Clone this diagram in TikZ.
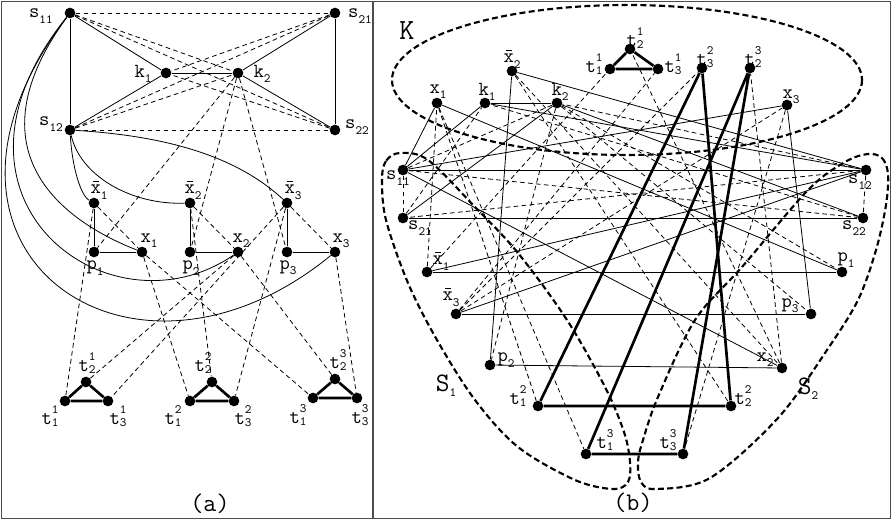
\documentclass[tikz,border=0pt]{standalone}
\usepackage{fontspec}
\newcommand{\sbs}[2]{#1\raisebox{-4pt}{\fontsize{9.5}{10}\selectfont#2}}
\newcommand{\tlab}[2]{t\rlap{\raisebox{8pt}{\fontsize{9.5}{10}\selectfont#1}}\raisebox{-1.5pt}{\fontsize{9.5}{10}\selectfont#2}}
\newcommand{\xbar}{\rlap{\hspace{2.2pt}\rule[9pt]{4pt}{0.7pt}}x}
\begin{document}
\begin{tikzpicture}[x=0.75pt,y=-0.75pt,
    font=\ttfamily\fontsize{15}{15}\selectfont,
    dot/.style={circle,fill=black,inner sep=0pt,minimum size=8pt},
    lbl/.style={inner sep=0pt},
    edge/.style={line width=0.6pt},
    dedge/.style={line width=0.6pt,dash pattern=on 3.5pt off 2.5pt},
    tri/.style={line width=2pt},
    region/.style={line width=1.6pt,dash pattern=on 4.5pt off 2.5pt}
  ]
  \useasboundingbox (0,0) rectangle (893,521);

  % frame
  \draw[line width=0.8pt,black!70] (1.5,1.5) rectangle (890.5,518.5);
  \draw[line width=0.8pt,black!70] (373,1.5) -- (373,518.5);

  % ---------- (a) vertices
  \node[dot] (as11) at (70,13) {};
  \node[dot] (as21) at (335,13) {};
  \node[dot] (ak1) at (166,73) {};
  \node[dot] (ak2) at (238,73) {};
  \node[dot] (as12) at (70,130) {};
  \node[dot] (as22) at (335,130) {};
  \node[dot] (axb1) at (94,203) {};
  \node[dot] (axb2) at (190,203) {};
  \node[dot] (axb3) at (287,203) {};
  \node[dot] (ap1) at (94,252) {};
  \node[dot] (ax1) at (142,252) {};
  \node[dot] (ap2) at (190,252) {};
  \node[dot] (ax2) at (238,252) {};
  \node[dot] (ap3) at (287,252) {};
  \node[dot] (ax3) at (335,252) {};
  \node[dot] (at12) at (86,382) {};
  \node[dot] (at11) at (65,401) {};
  \node[dot] (at13) at (108,401) {};
  \node[dot] (at22) at (212,382) {};
  \node[dot] (at21) at (190,401) {};
  \node[dot] (at23) at (234,401) {};
  \node[dot] (at32) at (335,379) {};
  \node[dot] (at31) at (313,398) {};
  \node[dot] (at33) at (357,398) {};

  % (a) labels
  \node[lbl] (al-s11) at (41,16) {\sbs{s}{11}};
  \node[lbl] (al-s21) at (360,16) {\sbs{s}{21}};
  \node[lbl] (al-k1) at (143,74) {\sbs{k}{1}};
  \node[lbl] (al-k2) at (262,74) {\sbs{k}{2}};
  \node[lbl] (al-s12) at (51,124) {\sbs{s}{12}};
  \node[lbl] (al-s22) at (357,127) {\sbs{s}{22}};
  \node[lbl] (al-xb1) at (99,190) {\sbs{\xbar}{1}};
  \node[lbl] (al-xb2) at (193,190) {\sbs{\xbar}{2}};
  \node[lbl] (al-xb3) at (293,190) {\sbs{\xbar}{3}};
  \node[lbl] (al-x1) at (149,241) {\sbs{x}{1}};
  \node[lbl] (al-x2) at (241,241) {\sbs{x}{2}};
  \node[lbl] (al-x3) at (341,241) {\sbs{x}{3}};
  \node[lbl] (al-p1) at (95,268) {\sbs{p}{1}};
  \node[lbl] (al-p2) at (191,268) {\sbs{p}{2}};
  \node[lbl] (al-p3) at (288,268) {\sbs{p}{3}};
  \node[lbl] (al-t12) at (87,363) {\tlab{1}{2}};
  \node[lbl] (al-t11) at (50,416) {\tlab{1}{1}};
  \node[lbl] (al-t13) at (118,416) {\tlab{1}{3}};
  \node[lbl] (al-t22) at (203,363) {\tlab{2}{2}};
  \node[lbl] (al-t21) at (173,416) {\tlab{2}{1}};
  \node[lbl] (al-t23) at (243,416) {\tlab{2}{3}};
  \node[lbl] (al-t32) at (338,360) {\tlab{3}{2}};
  \node[lbl] (al-t31) at (298,415) {\tlab{3}{1}};
  \node[lbl] (al-t33) at (360,415) {\tlab{3}{3}};
  \node[lbl,font=\ttfamily\fontsize{19}{19}\selectfont] (cap-a) at (210,504) {(a)};

  % ---------- (b) vertices
  \node[dot] (bt12) at (630,49) {};
  \node[dot] (bt11) at (610,69) {};
  \node[dot] (bt13) at (658,69) {};
  \node[dot] (bxb2) at (512,71) {};
  \node[dot] (bt23) at (702,68) {};
  \node[dot] (bt32) at (750,68) {};
  \node[dot] (bx1) at (437,103) {};
  \node[dot] (bk1) at (485,103) {};
  \node[dot] (bk2) at (557,103) {};
  \node[dot] (bx3) at (787,105) {};
  \node[dot] (bs11) at (403,170) {};
  \node[dot] (bs12) at (866,170) {};
  \node[dot] (bs21) at (403,218) {};
  \node[dot] (bs22) at (863,218) {};
  \node[dot] (bxb1) at (427,272) {};
  \node[dot] (bp1) at (842,272) {};
  \node[dot] (bxb3) at (456,314) {};
  \node[dot] (bp3) at (811,314) {};
  \node[dot] (bp2) at (490,365) {};
  \node[dot] (bx2) at (782,368) {};
  \node[dot] (bt21) at (538,406) {};
  \node[dot] (bt22) at (731,406) {};
  \node[dot] (bt31) at (586,454) {};
  \node[dot] (bt33) at (683,454) {};

  % (b) labels
  \node[lbl,font=\ttfamily\fontsize{22}{22}\selectfont] (bl-K) at (407,31) {K};
  \node[lbl] (bl-t12) at (635,38) {\tlab{1}{2}};
  \node[lbl] (bl-t11) at (594,64) {\tlab{1}{1}};
  \node[lbl] (bl-t13) at (673,64) {\tlab{1}{3}};
  \node[lbl] (bl-xb2) at (512,59) {\sbs{\xbar}{2}};
  \node[lbl] (bl-t23) at (705,57) {\tlab{2}{3}};
  \node[lbl] (bl-t32) at (753,57) {\tlab{3}{2}};
  \node[lbl] (bl-x1) at (438,92) {\sbs{x}{1}};
  \node[lbl] (bl-k1) at (487,92) {\sbs{k}{1}};
  \node[lbl] (bl-k2) at (560,92) {\sbs{k}{2}};
  \node[lbl] (bl-x3) at (791,97) {\sbs{x}{3}};
  \node[lbl] (bl-s11) at (398,178) {\sbs{s}{11}};
  \node[lbl] (bl-s12) at (860,182) {\sbs{s}{12}};
  \node[lbl] (bl-s21) at (420,228) {\sbs{s}{21}};
  \node[lbl] (bl-s22) at (854,228) {\sbs{s}{22}};
  \node[lbl] (bl-xb1) at (441,261) {\sbs{\xbar}{1}};
  \node[lbl] (bl-p1) at (846,260) {\sbs{p}{1}};
  \node[lbl] (bl-xb3) at (451,297) {\sbs{\xbar}{3}};
  \node[lbl] (bl-p3) at (790,306) {\sbs{p}{3}};
  \node[lbl] (bl-p2) at (506,360) {\sbs{p}{2}};
  \node[lbl] (bl-x2) at (765,360) {\sbs{x}{2}};
  \node[lbl] (bl-t21) at (518,396) {\tlab{2}{1}};
  \node[lbl] (bl-t22) at (743,396) {\tlab{2}{2}};
  \node[lbl] (bl-t31) at (605,440) {\tlab{3}{1}};
  \node[lbl] (bl-t33) at (668,440) {\tlab{3}{3}};
  \node[lbl,font=\ttfamily\fontsize{20}{20}\selectfont] (bl-S1) at (446,386) {\sbs{S}{1}};
  \node[lbl,font=\ttfamily\fontsize{20}{20}\selectfont] (bl-S2) at (808,389) {\sbs{S}{2}};
  \node[lbl,font=\ttfamily\fontsize{19}{19}\selectfont] (cap-b) at (633,503) {(b)};

  % edges common to both drawings
  \foreach \p in {a,b}{
    \foreach \u/\v in {s11/s12, s21/s22, s11/k1, s12/k1, k1/k2, k2/s21, k2/s22,
        xb1/p1, p1/x1, xb2/p2, p2/x2, xb3/p3, p3/x3}
      \draw[edge] (\p\u) -- (\p\v);
    \foreach \u/\v in {s11/s21, s12/s22, s11/k2, s11/s22, s12/k2, s12/s21, s21/k1, s22/k1,
        k2/p1, k2/p2, k2/p3, xb1/x1, xb2/x2, xb3/x3,
        xb1/t11, x2/t12, xb3/t13, x1/t21, xb2/t22, xb3/t23, x1/t31, x2/t32, x3/t33}
      \draw[dedge] (\p\u) -- (\p\v);
    \foreach \j in {1,2,3}
      \draw[tri] (\p t\j1) -- (\p t\j2) -- (\p t\j3) -- (\p t\j1);
  }

  % literal arcs in (a)
  \draw[edge] (as11) .. controls (-110,250) and (130,420) .. (ax3);
  \draw[edge] (as11) .. controls (-80,200) and (110,340) .. (ax2);
  \draw[edge] (as11) .. controls (-30,150) and (60,220) .. (ax1);
  \draw[edge] (as12) .. controls (72,165) and (80,195) .. (axb1);
  \draw[edge] (as12) .. controls (80,175) and (130,205) .. (axb2);
  \draw[edge] (as12) .. controls (150,135) and (230,150) .. (axb3);

  % the same edges in (b)
  \foreach \u/\v in {s11/x1, s11/x2, s11/x3, s12/xb1, s12/xb2, s12/xb3}
    \draw[edge] (b\u) -- (b\v);

  % parts K, S1, S2
  \draw[region] (627,80) ellipse [x radius=235, y radius=75];
  \draw[region] plot[smooth cycle, tension=0.55] coordinates {
    (400,153) (386,161) (382,180) (386,220) (408,283) (437,340) (475,400)
    (518,447) (575,480) (613,489) (628,482) (630,462) (624,432) (605,387)
    (567,320) (518,253) (475,207) (428,160)};
  \draw[region] plot[smooth cycle, tension=0.55] coordinates {
    (868,154) (882,158) (888,174) (886,205) (876,250) (858,300) (827,350)
    (778,418) (710,478) (656,489) (641,482) (638,462) (643,440) (658,397)
    (695,320) (742,267) (808,190) (845,162)};
\end{tikzpicture}
\end{document}
